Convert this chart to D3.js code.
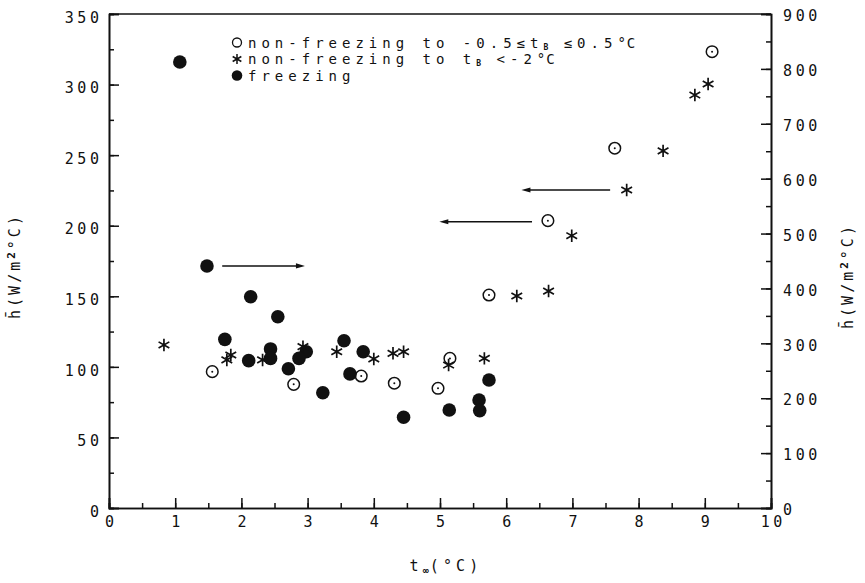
<!DOCTYPE html>
<html><head><meta charset="utf-8">
<script src="https://cdn.jsdelivr.net/npm/d3@7"></script>
<style>
body{margin:0;background:#fff;}
text{font-family:"DejaVu Sans Mono",monospace;fill:#111;}
</style></head>
<body><svg id="c" width="865" height="583"></svg>
<script>
// ---- data (left-axis units, h in W/m2 °C; x = t_inf in °C) ----
const xTicks = [0,1,2,3,4,5,6,7,8,9,10];
const yLeftTicks = [0,50,100,150,200,250,300,350];
const yRightTicks = [0,100,200,300,400,500,600,700,800,900];

const freezingX = [1.07,1.48,2.14,2.55,1.75,2.11,2.44,2.44,2.98,2.87,2.71,3.23,3.55,3.84,3.64,4.45,5.14,5.59,5.60,5.74];
const freezingY = [316,171.5,149.7,135.5,119.5,104.4,112.7,106,110.7,106,98.7,81.7,118.5,110.7,95,64.3,69.4,76.5,69,90.7];

const starX = [0.83,1.84,1.78,2.32,2.93,3.44,4.00,4.29,4.45,5.13,5.67,6.16,6.64,6.99,7.82,8.37,8.85,9.05];
const starY = [115.5,108.4,104.9,104.9,114.3,110.7,105.6,109.6,110.7,101.3,106,150.2,153.7,192.9,225.3,253,292.6,300.4];

const circX = [1.56,2.79,3.81,4.31,4.97,5.15,5.74,6.63,7.64,9.11];
const circY = [96.6,87.6,93.5,88.4,84.8,106,150.9,203.6,254.9,323.3];

const arrowX1 = [1.71,7.57,6.39];
const arrowX2 = [2.96,6.23,4.99];
const arrowY  = [171.5,225.3,202.8];

// ---- layout ----
const svg = d3.select("#c");
const L=109,R=771,T=14,B=508;
const x = d3.scaleLinear([0,10],[L,R]);
const yL = d3.scaleLinear([0,350],[B,T]);
const yR = d3.scaleLinear([0,900],[B,T]);
const FS = 15, LS = 3.6;
const LFS = 14, LLS = 5;

function styleAxis(g){
  g.select(".domain").attr("stroke","#111").attr("stroke-width",1.6);
  g.selectAll(".tick line").attr("stroke","#111").attr("stroke-width",1.5);
  g.selectAll(".tick text").attr("font-size",FS).attr("letter-spacing",LS)
   .attr("font-family","DejaVu Sans Mono").attr("fill","#111");
}

// minor ticks
svg.append("g").attr("transform",`translate(${L},0)`)
  .call(d3.axisLeft(yL).tickValues(d3.range(0,351,25)).tickSize(-5).tickFormat(""))
  .call(styleAxis);
svg.append("g").attr("transform",`translate(${R},0)`)
  .call(d3.axisRight(yR).tickValues(d3.range(0,901,50)).tickSize(-5).tickFormat(""))
  .call(styleAxis);
svg.append("g").attr("transform",`translate(0,${B})`)
  .call(d3.axisBottom(x).tickValues(d3.range(0,10.01,0.5)).tickSize(-5).tickFormat(""))
  .call(styleAxis);

// major
const gl = svg.append("g").attr("transform",`translate(${L},0)`)
  .call(d3.axisLeft(yL).tickValues(yLeftTicks).tickSize(-10).tickPadding(10).tickFormat(d3.format("d")))
  .call(styleAxis);
gl.selectAll(".tick text").attr("dy","0.55em").attr("dx",LS);
const gr = svg.append("g").attr("transform",`translate(${R},0)`)
  .call(d3.axisRight(yR).tickValues(yRightTicks).tickSize(-10).tickPadding(12).tickFormat(d3.format("d")))
  .call(styleAxis);
gr.selectAll(".tick text").attr("dy","0.45em");
const gb = svg.append("g").attr("transform",`translate(0,${B})`)
  .call(d3.axisBottom(x).tickValues(xTicks).tickSize(-10).tickPadding(8).tickFormat(d3.format("d")))
  .call(styleAxis);
gb.selectAll(".tick text").attr("dx",LS/2);

// top border
svg.append("line").attr("x1",L).attr("x2",R).attr("y1",T).attr("y2",T)
  .attr("stroke","#111").attr("stroke-width",1.6);

// ---- marks ----
const ink="#111";
svg.append("g").selectAll("circle").data(freezingX.map((d,i)=>[d,freezingY[i]])).join("circle")
  .attr("cx",d=>x(d[0])).attr("cy",d=>yL(d[1])).attr("r",6.8).attr("fill",ink);

const cg = svg.append("g").selectAll("g").data(circX.map((d,i)=>[d,circY[i]])).join("g")
  .attr("transform",d=>`translate(${x(d[0])},${yL(d[1])})`);
cg.append("circle").attr("r",5.8).attr("fill","none").attr("stroke",ink).attr("stroke-width",1.5);
cg.append("circle").attr("r",1).attr("fill",ink);

const starPath = (r)=>{
  const c=Math.cos(Math.PI/6)*r, s=Math.sin(Math.PI/6)*r;
  return `M0,${-r}L0,${r}M${-c},${-s}L${c},${s}M${-c},${s}L${c},${-s}`;
};
svg.append("g").selectAll("path").data(starX.map((d,i)=>[d,starY[i]])).join("path")
  .attr("transform",d=>`translate(${x(d[0])},${yL(d[1])})`)
  .attr("d",starPath(6.2)).attr("stroke",ink).attr("stroke-width",1.7).attr("fill","none");

arrowX1.forEach((x1,i)=>{
  const x2=arrowX2[i], yy=yL(arrowY[i]);
  const px1=x(x1), px2=x(x2), dir=Math.sign(px2-px1);
  svg.append("line").attr("x1",px1).attr("x2",px2-dir*6).attr("y1",yy).attr("y2",yy)
    .attr("stroke",ink).attr("stroke-width",1.6);
  svg.append("path").attr("d",`M${px2},${yy}L${px2-dir*9},${yy-2.6}L${px2-dir*9},${yy+2.6}Z`).attr("fill",ink);
});

// ---- legend ----
const lx=237, ly=[42.5,59,75.5];
svg.append("circle").attr("cx",lx).attr("cy",ly[0]).attr("r",4.5).attr("fill","none").attr("stroke",ink).attr("stroke-width",1.3);
svg.append("path").attr("transform",`translate(${lx},${ly[1]})`).attr("d",starPath(5)).attr("stroke",ink).attr("stroke-width",1.5);
svg.append("circle").attr("cx",lx).attr("cy",ly[2]).attr("r",5.3).attr("fill",ink);

function legText(y){ return svg.append("text").attr("x",248).attr("y",y+5).attr("font-size",LFS).attr("letter-spacing",LLS); }
let t1 = legText(ly[0]);
t1.append("tspan").text("non-freezing to -0.5≤t");
t1.append("tspan").text("B").attr("font-size",8).attr("font-weight","bold").attr("dy",2).attr("letter-spacing",0);
t1.append("tspan").text(" ≤0.5").attr("dy",-2).attr("dx",2);
t1.append("tspan").text("°").attr("letter-spacing",1);
t1.append("tspan").text("C");
let t2 = legText(ly[1]);
t2.append("tspan").text("non-freezing to t");
t2.append("tspan").text("B").attr("font-size",8).attr("font-weight","bold").attr("dy",2).attr("letter-spacing",0);
t2.append("tspan").text(" <-2").attr("dy",-2).attr("dx",2);
t2.append("tspan").text("°").attr("letter-spacing",1);
t2.append("tspan").text("C");
legText(ly[2]).text("freezing");

// ---- axis titles ----
const xt = svg.append("text").attr("x",446).attr("y",571).attr("font-size",FS).attr("letter-spacing",LS+0.6).attr("text-anchor","middle");
xt.append("tspan").text("t");
xt.append("tspan").text("∞").attr("font-size",10).attr("font-weight","bold").attr("dy",3).attr("letter-spacing",1);
xt.append("tspan").text("(°C)").attr("dy",-3);

function yTitle(cx,cy){
  const g = svg.append("text").attr("transform",`translate(${cx},${cy}) rotate(-90)`)
    .attr("font-size",FS).attr("letter-spacing",LS-0.6).attr("text-anchor","middle");
  g.append("tspan").text("h̄(W/m");
  g.append("tspan").text("2").attr("font-size",11).attr("dy",-5).attr("font-weight","bold");
  g.append("tspan").text("°C)").attr("dy",5);
}
yTitle(20,266);
yTitle(853,276);
</script></body></html>
